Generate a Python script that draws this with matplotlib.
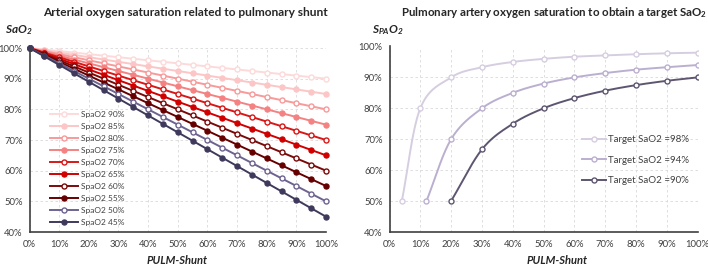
import matplotlib
matplotlib.use('Agg')
import matplotlib.pyplot as plt
import numpy as np
from matplotlib.ticker import PercentFormatter

plt.rcParams['font.family'] = ['Lato', 'DejaVu Sans']
plt.rcParams['mathtext.fontset'] = 'custom'
plt.rcParams['mathtext.rm'] = 'Lato'
plt.rcParams['mathtext.it'] = 'Lato:italic'
plt.rcParams['mathtext.bf'] = 'Lato:bold'
plt.rcParams['mathtext.bfit'] = 'Lato:bold:italic'

# ---- left chart data: SaO2 (%) vs pulmonary shunt (%) ----
shunt = [0, 5, 10, 15, 20, 25, 30, 35, 40, 45, 50, 55, 60, 65, 70, 75, 80, 85, 90, 95, 100]
spao2_labels = ['SpaO2 90%', 'SpaO2 85%', 'SpaO2 80%', 'SpaO2 75%', 'SpaO2 70%',
                'SpaO2 65%', 'SpaO2 60%', 'SpaO2 55%', 'SpaO2 50%', 'SpaO2 45%']
sao2_90 = [100, 99.5, 99, 98.5, 98, 97.5, 97, 96.5, 96, 95.5, 95, 94.5, 94, 93.5, 93, 92.5, 92, 91.5, 91, 90.5, 90]
sao2_85 = [100, 99.25, 98.5, 97.75, 97, 96.25, 95.5, 94.75, 94, 93.25, 92.5, 91.75, 91, 90.25, 89.5, 88.75, 88, 87.25, 86.5, 85.75, 85]
sao2_80 = [100, 99, 98, 97, 96, 95, 94, 93, 92, 91, 90, 89, 88, 87, 86, 85, 84, 83, 82, 81, 80]
sao2_75 = [100, 98.75, 97.5, 96.25, 95, 93.75, 92.5, 91.25, 90, 88.75, 87.5, 86.25, 85, 83.75, 82.5, 81.25, 80, 78.75, 77.5, 76.25, 75]
sao2_70 = [100, 98.5, 97, 95.5, 94, 92.5, 91, 89.5, 88, 86.5, 85, 83.5, 82, 80.5, 79, 77.5, 76, 74.5, 73, 71.5, 70]
sao2_65 = [100, 98.25, 96.5, 94.75, 93, 91.25, 89.5, 87.75, 86, 84.25, 82.5, 80.75, 79, 77.25, 75.5, 73.75, 72, 70.25, 68.5, 66.75, 65]
sao2_60 = [100, 98, 96, 94, 92, 90, 88, 86, 84, 82, 80, 78, 76, 74, 72, 70, 68, 66, 64, 62, 60]
sao2_55 = [100, 97.75, 95.5, 93.25, 91, 88.75, 86.5, 84.25, 82, 79.75, 77.5, 75.25, 73, 70.75, 68.5, 66.25, 64, 61.75, 59.5, 57.25, 55]
sao2_50 = [100, 97.5, 95, 92.5, 90, 87.5, 85, 82.5, 80, 77.5, 75, 72.5, 70, 67.5, 65, 62.5, 60, 57.5, 55, 52.5, 50]
sao2_45 = [100, 97.25, 94.5, 91.75, 89, 86.25, 83.5, 80.75, 78, 75.25, 72.5, 69.75, 67, 64.25, 61.5, 58.75, 56, 53.25, 50.5, 47.75, 45]
left_series = [sao2_90, sao2_85, sao2_80, sao2_75, sao2_70, sao2_65, sao2_60, sao2_55, sao2_50, sao2_45]
left_colors = ['#FDDADA', '#FCC6C6', '#F79A9A', '#F48282', '#D81818',
               '#D00000', '#7A0A0A', '#660000', '#6E6390', '#3F3A5C']
left_hollow = [True, False, True, False, True, False, True, False, True, False]

# ---- right chart data: required SpaO2 (%) vs shunt (%) ----
target_labels = ['Target SaO2 =98%', 'Target SaO2 =94%', 'Target SaO2 =90%']
shunt_98 = [4, 10, 20, 30, 40, 50, 60, 70, 80, 90, 100]
spa_98 = [50, 80, 90, 93.3, 95, 96, 96.7, 97.1, 97.5, 97.8, 98]
shunt_94 = [12, 20, 30, 40, 50, 60, 70, 80, 90, 100]
spa_94 = [50, 70, 80, 85, 88, 90, 91.4, 92.5, 93.3, 94]
shunt_90 = [20, 30, 40, 50, 60, 70, 80, 90, 100]
spa_90 = [50, 66.7, 75, 80, 83.3, 85.7, 87.5, 88.9, 90]
right_series = [(shunt_98, spa_98), (shunt_94, spa_94), (shunt_90, spa_90)]
right_colors = ['#D6CEE0', '#BBAFD0', '#5E5670']


def smooth(x, y, n=20):
    # Catmull-Rom curve through the points (like Excel's smoothed line)
    x = np.asarray(x, float)
    y = np.asarray(y, float)
    px = np.concatenate([[2 * x[0] - x[1]], x, [2 * x[-1] - x[-2]]])
    py = np.concatenate([[2 * y[0] - y[1]], y, [2 * y[-1] - y[-2]]])
    xs, ys = [], []
    t = np.linspace(0, 1, n)
    for i in range(1, len(px) - 2):
        for p, out in ((px, xs), (py, ys)):
            p0, p1, p2, p3 = p[i - 1], p[i], p[i + 1], p[i + 2]
            out.extend(0.5 * (2 * p1 + (-p0 + p2) * t + (2 * p0 - 5 * p1 + 4 * p2 - p3) * t ** 2
                              + (-p0 + 3 * p1 - 3 * p2 + p3) * t ** 3))
    return xs, ys


def style_axes(ax):
    ax.set_xlim(0, 100)
    ax.set_ylim(40, 100)
    ax.set_xticks(range(0, 101, 10))
    ax.set_yticks(range(40, 101, 10))
    ax.xaxis.set_major_formatter(PercentFormatter(decimals=0))
    ax.yaxis.set_major_formatter(PercentFormatter(decimals=0))
    ax.tick_params(labelsize=6.8, length=0, colors='#404040')
    ax.tick_params(axis='x', pad=6)
    ax.tick_params(axis='y', pad=5)
    ax.grid(True, color='#D9D9D9', linestyle=(0, (3, 3)), linewidth=0.6)
    ax.set_axisbelow(True)
    for s in ('top', 'right'):
        ax.spines[s].set_visible(False)
    for s in ('left', 'bottom'):
        ax.spines[s].set_color('#404040')
        ax.spines[s].set_linewidth(1.2)


fig = plt.figure(figsize=(7.08, 2.68), dpi=100)
ax1 = fig.add_axes([29.5 / 708, 36 / 268, 296.5 / 708, 184 / 268])
ax2 = fig.add_axes([389.5 / 708, 36 / 268, 308 / 708, 185.5 / 268])

# left chart
for vals, lab, col, hol in zip(left_series, spao2_labels, left_colors, left_hollow):
    ax1.plot(shunt, vals, color=col, lw=1.4, marker='o', ms=3.6,
             mfc='white' if hol else col, mec=col, mew=1.0, label=lab, clip_on=False)
style_axes(ax1)
ax1.legend(loc='lower left', bbox_to_anchor=(0.05, 0.0), frameon=False, fontsize=6,
           handlelength=3.3, handletextpad=0.35, labelspacing=0.6, borderpad=0.2,
           labelcolor='#404040')
fig.text(185 / 708, 1 - 12 / 268, 'Arterial oxygen saturation related to pulmonary shunt',
         fontsize=8.6, fontweight='bold', color='#262626', ha='center', va='center')
fig.text(5 / 708, 1 - 30 / 268, r'$\mathbfit{SaO_2}$', fontsize=8.5,
         color='#262626', va='center')
fig.text(177 / 708, 1 - 261 / 268, 'PULM-Shunt', fontsize=8, fontweight='bold',
         fontstyle='italic', color='#262626', ha='center', va='center')

# right chart
for (xs, ys), lab, col in zip(right_series, target_labels, right_colors):
    sx, sy = smooth(xs, ys)
    ax2.plot(sx, sy, color=col, lw=1.4)
    ax2.plot(xs, ys, ls='none', marker='o', ms=3.6, mfc='white', mec=col, mew=1.0)
    ax2.plot([], [], color=col, lw=1.4, marker='o', ms=3.6, mfc='white', mec=col,
             mew=1.0, label=lab)
style_axes(ax2)
ax2.legend(loc='upper right', bbox_to_anchor=(1.0, 0.57), frameon=False, fontsize=7,
           handlelength=2.4, handletextpad=0.2, labelspacing=1.2, labelcolor='#404040')
fig.text(554 / 708, 1 - 12 / 268,
         r'Pulmonary artery oxygen saturation to obtain a target SaO$_\mathbf{2}$',
         fontsize=8.3, fontweight='bold', color='#262626', ha='center', va='center')
fig.text(372 / 708, 1 - 30 / 268, r'$\mathbfit{S_{PA}O_2}$', fontsize=8.5,
         color='#262626', va='center')
fig.text(557 / 708, 1 - 261 / 268, 'PULM-Shunt', fontsize=8, fontweight='bold',
         fontstyle='italic', color='#262626', ha='center', va='center')

fig.savefig('out.png', dpi=100)
